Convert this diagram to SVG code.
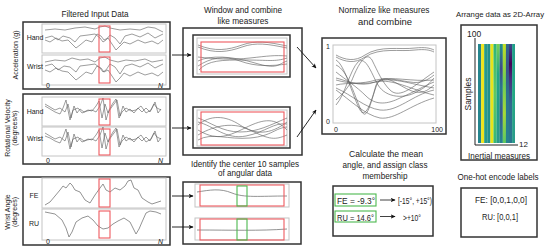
<svg xmlns="http://www.w3.org/2000/svg" width="550" height="251" viewBox="0 0 550 251">
<style>
text{font-family:"Liberation Sans",Arial,sans-serif;fill:#222}
.ttl{font-size:9px;text-anchor:middle}
.sm{font-size:7px}
.lab{font-size:7px;text-anchor:middle}
.box{fill:none;stroke:#333;stroke-width:1.5}
.plot{fill:#fff;stroke:#c4c4c4;stroke-width:1}
.red{fill:none;stroke:#ee5a5f;stroke-width:1.1}
.grn{fill:none;stroke:#4cb84f;stroke-width:1.1}
.ln{fill:none;stroke:#5a5a5a;stroke-width:0.6}
.ln2{fill:none;stroke:#777;stroke-width:0.8}
.arr{fill:none;stroke:#111;stroke-width:0.9;marker-end:url(#ah)}
</style>
<defs>
<marker id="ah" viewBox="0 0 8 8" refX="7" refY="4" markerWidth="5" markerHeight="5" orient="auto" markerUnits="userSpaceOnUse">
<path d="M0,0.5 L8,4 L0,7.5 L2,4 Z" fill="#111"/>
</marker>
<linearGradient id="g6" x1="0" y1="0" x2="0" y2="1"><stop offset="0" stop-color="#2fb47c"/><stop offset="0.5" stop-color="#5ec962"/><stop offset="1" stop-color="#35b779"/></linearGradient>
<linearGradient id="g7" x1="0" y1="0" x2="0" y2="1"><stop offset="0" stop-color="#7ad151"/><stop offset="0.3" stop-color="#22a884"/><stop offset="0.6" stop-color="#1f9e89"/><stop offset="1" stop-color="#2a9a8a"/></linearGradient>
<linearGradient id="g8" x1="0" y1="0" x2="0" y2="1"><stop offset="0" stop-color="#21918c"/><stop offset="0.25" stop-color="#3e4a89"/><stop offset="0.45" stop-color="#2a788e"/><stop offset="0.7" stop-color="#38598c"/><stop offset="1" stop-color="#25858e"/></linearGradient>
<linearGradient id="g9" x1="0" y1="0" x2="0" y2="1"><stop offset="0" stop-color="#c2df23"/><stop offset="0.4" stop-color="#6ece58"/><stop offset="0.7" stop-color="#a5db36"/><stop offset="1" stop-color="#5ec962"/></linearGradient>
<linearGradient id="g10" x1="0" y1="0" x2="0" y2="1"><stop offset="0" stop-color="#31688e"/><stop offset="0.25" stop-color="#3b528b"/><stop offset="0.5" stop-color="#2c728e"/><stop offset="1" stop-color="#26828e"/></linearGradient>
<linearGradient id="g11" x1="0" y1="0" x2="0" y2="1"><stop offset="0" stop-color="#3e4a89"/><stop offset="0.2" stop-color="#440154"/><stop offset="0.35" stop-color="#472d7b"/><stop offset="0.6" stop-color="#31688e"/><stop offset="1" stop-color="#2a788e"/></linearGradient>
<linearGradient id="g12" x1="0" y1="0" x2="0" y2="1"><stop offset="0" stop-color="#1f9e89"/><stop offset="0.5" stop-color="#22a884"/><stop offset="1" stop-color="#2a9a8a"/></linearGradient>
</defs>

<g id="filtered-input-data">
<text class="ttl" x="95" y="17" textLength="67" lengthAdjust="spacingAndGlyphs">Filtered Input Data</text>
<g id="acceleration">
<rect class="box" x="23" y="22" width="147" height="67"/>
<text class="sm" transform="translate(17.5,55) rotate(-90)" text-anchor="middle">Acceleration (g)</text>
<rect class="plot" x="42" y="24" width="124" height="29"/>
<rect class="plot" x="42" y="55" width="124" height="30"/>
<text class="lab" x="35" y="40">Hand</text>
<text class="lab" x="35" y="69">Wrist</text>
<path class="ln" d="M45,30 L55,29 L65,30 L75,28 L85,27 L95,29 L100,27 L105,26 L110,28 L115,29 L120,30 L130,29 L140,30 L148,27 L155,28 L163,32"/>
<path class="ln" d="M45,38 L52,36 L58,40 L63,36 L70,38 L75,42 L80,36 L88,35 L95,34 L100,38 L103,42 L106,40 L110,35 L115,38 L120,44 L125,36 L132,34 L140,37 L148,33 L155,38 L163,34"/>
<path class="ln" d="M45,40 L50,42 L56,38 L62,41 L68,40 L72,44 L76,48 L80,45 L86,40 L92,42 L97,34 L101,36 L104,40 L108,38 L112,44 L116,50 L120,46 L124,42 L130,44 L138,40 L145,43 L152,41 L158,44 L163,40"/>
<path class="ln" d="M45,62 L55,60 L65,61 L72,58 L80,60 L88,59 L95,62 L100,58 L105,57 L110,60 L118,62 L126,60 L135,61 L145,59 L152,62 L163,60"/>
<path class="ln" d="M45,66 L52,64 L58,70 L64,66 L70,67 L76,72 L80,66 L88,65 L95,64 L100,68 L103,72 L106,70 L110,64 L115,67 L120,74 L125,66 L132,64 L140,67 L148,63 L155,68 L163,64"/>
<path class="ln" d="M45,70 L50,72 L56,68 L62,71 L68,72 L72,76 L76,80 L80,77 L86,72 L92,74 L97,66 L101,68 L104,72 L108,70 L112,76 L116,82 L120,78 L124,73 L130,76 L138,72 L145,75 L152,73 L158,76 L163,72"/>
<rect class="red" x="99" y="26" width="11" height="26"/>
<rect class="red" x="99" y="57" width="11" height="26"/>
<text class="sm" x="46" y="88">0</text>
<text class="sm" x="158" y="88" font-style="italic">N</text>
</g>
<g id="rotational-velocity">
<rect class="box" x="23" y="94" width="147" height="70"/>
<text class="sm" transform="translate(9.5,128) rotate(-90)" text-anchor="middle">Rotational Velocity</text>
<text class="sm" transform="translate(16.5,128) rotate(-90)" text-anchor="middle">(degrees/s)</text>
<rect class="plot" x="42" y="97" width="124" height="29"/>
<rect class="plot" x="42" y="127" width="124" height="29"/>
<text class="lab" x="35" y="114">Hand</text>
<text class="lab" x="35" y="141">Wrist</text>
<path class="ln" d="M45,104 L50,107 L55,110 L60,108 L65,112 L68,104 L71,118 L74,106 L77,113 L80,109 L84,112 L88,110 L92,111 L96,106 L99,101 L102,118 L105,104 L108,113 L111,108 L114,104 L117,100 L120,116 L123,106 L126,112 L130,109 L134,113 L138,108 L142,112 L146,108 L150,112 L154,104 L157,108 L161,110"/>
<path class="ln" d="M45,106 L50,109 L55,112 L60,114 L63,108 L66,100 L70,120 L73,110 L78,108 L82,113 L87,111 L92,110 L96,112 L100,106 L103,98 L106,120 L109,110 L113,103 L116,99 L119,118 L122,112 L126,108 L131,111 L136,110 L141,106 L146,113 L151,110 L155,102 L158,113 L161,109"/>
<path class="ln" d="M45,133 L50,136 L55,139 L60,137 L65,141 L68,132 L71,147 L74,134 L77,142 L80,138 L84,141 L88,139 L92,140 L96,135 L99,130 L102,148 L105,133 L108,142 L111,137 L114,133 L117,129 L120,145 L123,135 L126,141 L130,138 L134,142 L138,137 L142,141 L146,137 L150,141 L154,133 L157,137 L161,139"/>
<path class="ln" d="M45,136 L50,138 L55,141 L60,143 L63,137 L66,129 L70,149 L73,139 L78,137 L82,142 L87,140 L92,139 L96,141 L100,135 L103,127 L106,149 L109,139 L113,132 L116,128 L119,147 L122,141 L126,137 L131,140 L136,139 L141,135 L146,142 L151,139 L155,131 L158,142 L161,138"/>
<rect class="red" x="99" y="99" width="11" height="26"/>
<rect class="red" x="99" y="129" width="11" height="26"/>
<text class="sm" x="46" y="163">0</text>
<text class="sm" x="158" y="163" font-style="italic">N</text>
</g>
<g id="wrist-angle">
<rect class="box" x="23" y="177" width="147" height="68"/>
<text class="sm" transform="translate(9.5,212) rotate(-90)" text-anchor="middle">Wrist Angle</text>
<text class="sm" transform="translate(16.5,212) rotate(-90)" text-anchor="middle">(degrees)</text>
<rect class="plot" x="42" y="178" width="124" height="30"/>
<rect class="plot" x="42" y="209" width="124" height="31"/>
<text class="lab" x="34" y="198">FE</text>
<text class="lab" x="34" y="226">RU</text>
<path class="ln2" d="M45,205 L50,202 L55,196 L60,190 L63,186 L66,188 L70,183 L72,185 L75,190 L80,192 L85,200 L90,203 L95,195 L100,188 L103,184 L106,190 L110,192 L115,188 L120,190 L125,186 L128,181 L131,180 L134,188 L138,190 L142,198 L148,202 L152,204 L158,202 L161,201"/>
<path class="ln2" d="M45,212 L55,214 L62,220 L66,228 L69,237 L72,232 L76,222 L82,218 L88,216 L93,220 L98,226 L103,229 L108,228 L113,224 L118,221 L124,218 L130,222 L136,234 L139,229 L142,222 L146,213 L150,211 L156,212 L161,214"/>
<rect class="red" x="99" y="179" width="11" height="28"/>
<rect class="red" x="99" y="211" width="11" height="27"/>
<text class="sm" x="46" y="244">0</text>
<text class="sm" x="158" y="244" font-style="italic">N</text>
</g>
</g>

<g id="window-combine">
<text class="ttl" x="243" y="13" textLength="78" lengthAdjust="spacingAndGlyphs">Window and combine</text>
<text class="ttl" x="243" y="24" textLength="51" lengthAdjust="spacingAndGlyphs">like measures</text>
<rect class="box" x="183" y="28" width="119" height="127"/>
<rect class="box" x="193" y="35" width="97" height="42"/>
<rect class="plot" x="197" y="38" width="90" height="36"/>
<path class="ln" d="M198,45 C215,52 228,50 242,45 S268,42 287,46"/>
<path class="ln" d="M198,47 C215,54 228,52 242,47 S268,44 287,48"/>
<path class="ln" d="M198,57 C215,59 232,60 250,58 S275,55 287,56"/>
<path class="ln" d="M198,61 C210,55 232,56 255,63 S278,64 287,61"/>
<path class="ln" d="M198,66 C210,58 224,55 240,61 S272,66 287,64"/>
<path class="ln" d="M199,70 C208,60 222,60 245,60 S275,62 287,58"/>
<rect class="red" x="201" y="42" width="83" height="30"/>
<rect class="box" x="193" y="107" width="97" height="41"/>
<rect class="plot" x="197" y="110" width="90" height="36"/>
<path class="ln" d="M198,125 C210,115 225,115 240,125 S270,135 287,122"/>
<path class="ln" d="M198,130 C215,140 225,138 245,128 S275,118 287,130"/>
<path class="ln" d="M198,135 C210,128 230,120 250,130 S275,140 287,135"/>
<path class="ln" d="M198,140 C212,132 228,140 250,138 S275,128 287,127"/>
<path class="ln" d="M198,118 C210,122 222,132 240,132 S270,125 287,118"/>
<path class="ln" d="M198,122 C214,126 226,140 246,136 S274,122 287,124"/>
<rect class="red" x="201" y="112" width="83" height="33"/>
</g>

<g id="center-samples">
<text class="ttl" x="245" y="167" textLength="108" lengthAdjust="spacingAndGlyphs">Identify the center 10 samples</text>
<text class="ttl" x="245" y="176" textLength="54" lengthAdjust="spacingAndGlyphs">of angular data</text>
<rect class="box" x="183" y="182" width="118" height="62"/>
<rect class="plot" x="195" y="184" width="94" height="23"/>
<path class="ln2" d="M197,192 C210,190 220,188 232,193 S260,196 287,196"/>
<rect class="red" x="200" y="185" width="84" height="21"/>
<rect class="grn" x="237" y="186" width="10" height="20"/>
<rect class="plot" x="195" y="218" width="94" height="22"/>
<path class="ln2" d="M197,230 C230,230 260,231 287,229"/>
<rect class="red" x="200" y="219" width="84" height="21"/>
<rect class="grn" x="237" y="219" width="10" height="21"/>
</g>

<g id="normalize">
<text class="ttl" x="384" y="13" textLength="91" lengthAdjust="spacingAndGlyphs">Normalize like measures</text>
<text class="ttl" x="385" y="25" textLength="54" lengthAdjust="spacingAndGlyphs">and combine</text>
<rect class="box" x="322" y="38" width="124" height="96"/>
<rect class="plot" x="333" y="45" width="103" height="78"/>
<path class="ln" d="M336,55 C345,60 355,62 365,55 C380,45 400,50 415,48 C425,47 430,48 434,50"/>
<path class="ln" d="M336,57 C345,62 355,64 365,57 C380,47 400,52 415,50 C425,49 430,50 434,52"/>
<path class="ln" d="M336,60 C345,65 352,95 360,110 C366,120 372,100 376,85 C382,75 395,80 410,82 C420,84 428,80 434,75"/>
<path class="ln" d="M336,65 C348,70 355,98 362,112 C368,122 372,95 378,82 C386,72 400,88 415,92 C425,94 430,88 434,85"/>
<path class="ln" d="M336,100 C342,95 348,88 352,80 C358,65 366,50 372,60 C378,72 382,82 390,90 C400,100 415,85 434,72"/>
<path class="ln" d="M336,105 C345,95 350,70 358,62 C366,55 372,75 378,85 C386,98 405,100 420,90 C428,86 432,80 434,78"/>
<path class="ln" d="M336,78 C345,80 360,88 375,82 C390,76 410,84 434,88"/>
<path class="ln" d="M336,80 C350,84 362,84 376,80 C392,76 412,82 434,80"/>
<path class="ln" d="M336,85 C348,82 362,85 376,82 C392,78 412,90 434,95"/>
<path class="ln" d="M336,72 C346,80 356,86 366,96 C376,106 388,104 400,98 C414,92 424,86 434,82"/>
<path class="ln" d="M336,90 C350,100 365,115 380,118 C395,120 410,105 434,98"/>
<path class="ln" d="M336,88 C352,95 365,108 380,110 C398,112 412,95 434,90"/>
<text class="sm" x="326" y="49">1</text>
<text class="sm" x="326" y="124">0</text>
<text class="sm" x="334" y="132">0</text>
<text class="sm" x="443" y="132" text-anchor="end">100</text>
</g>

<g id="class-membership">
<text class="ttl" x="386" y="157" textLength="74" lengthAdjust="spacingAndGlyphs">Calculate the mean</text>
<text class="ttl" x="385" y="168" textLength="85" lengthAdjust="spacingAndGlyphs">angle, and assign class</text>
<text class="ttl" x="385" y="179" textLength="45" lengthAdjust="spacingAndGlyphs">membership</text>
<rect class="box" x="333" y="186" width="100" height="50"/>
<rect class="grn" x="335" y="194" width="41" height="12"/>
<rect class="grn" x="335" y="211" width="41" height="11"/>
<text x="337" y="204" font-size="8.5" textLength="38" lengthAdjust="spacingAndGlyphs">FE = -9.3°</text>
<text x="337" y="220.5" font-size="8.5" textLength="37" lengthAdjust="spacingAndGlyphs">RU = 14.6°</text>
<line x1="380" y1="200" x2="395" y2="200" stroke="#111" stroke-width="0.8" marker-end="url(#ah)"/>
<line x1="380" y1="216.5" x2="395" y2="216.5" stroke="#111" stroke-width="0.8" marker-end="url(#ah)"/>
<text x="398" y="204" font-size="8.5" textLength="34" lengthAdjust="spacingAndGlyphs">[-15°, +15°)</text>
<text x="403" y="220.5" font-size="8.5" textLength="18" lengthAdjust="spacingAndGlyphs">&gt;+10°</text>
</g>

<g id="array-2d">
<text x="500" y="17" style="font-size:7.7px;text-anchor:middle" textLength="88" lengthAdjust="spacingAndGlyphs">Arrange data as 2D-Array</text>
<rect class="box" x="461" y="25" width="76" height="135"/>
<rect x="478" y="44" width="3.2" height="99" fill="#25858e"/>
<rect x="481.1" y="44" width="3.2" height="99" fill="#f0e51c"/>
<rect x="484.2" y="44" width="3.2" height="99" fill="#2a9a8a"/>
<rect x="487.3" y="44" width="3.2" height="99" fill="#21908d"/>
<rect x="490.4" y="44" width="3.2" height="99" fill="#e8e419"/>
<rect x="493.5" y="44" width="3.2" height="99" fill="url(#g6)"/>
<rect x="496.6" y="44" width="3.2" height="99" fill="url(#g7)"/>
<rect x="499.7" y="44" width="3.2" height="99" fill="url(#g8)"/>
<rect x="502.8" y="44" width="3.2" height="99" fill="url(#g9)"/>
<rect x="505.9" y="44" width="3.2" height="99" fill="url(#g10)"/>
<rect x="509" y="44" width="3.2" height="99" fill="url(#g11)"/>
<rect x="512.1" y="44" width="2.9" height="99" fill="url(#g12)"/>
<path d="M475,38 L475,145 L518,145" fill="none" stroke="#222" stroke-width="1"/>
<text x="467" y="37" font-size="8.5">100</text>
<text x="519" y="147" font-size="8">12</text>
<text font-size="8.5" transform="translate(471,94) rotate(-90)" text-anchor="middle">Samples</text>
<text x="499" y="158.5" font-size="8.5" text-anchor="middle" textLength="62" lengthAdjust="spacingAndGlyphs">Inertial measures</text>
</g>

<g id="one-hot">
<text class="ttl" x="498" y="180" textLength="81" lengthAdjust="spacingAndGlyphs">One-hot encode labels</text>
<rect class="box" x="461" y="188" width="76" height="49"/>
<text x="501" y="203" font-size="8.5" text-anchor="middle" textLength="52" lengthAdjust="spacingAndGlyphs">FE: [0,0,1,0,0]</text>
<text x="500" y="220" font-size="8.5" text-anchor="middle" textLength="36" lengthAdjust="spacingAndGlyphs">RU: [0,0,1]</text>
</g>

<g id="connectors">
<line class="arr" x1="172" y1="55" x2="191" y2="55"/>
<line class="arr" x1="172" y1="128" x2="191" y2="128"/>
<line class="arr" x1="172" y1="196" x2="193" y2="196"/>
<line class="arr" x1="172" y1="227" x2="193" y2="227"/>
<line class="arr" x1="297" y1="47" x2="316" y2="68"/>
<line class="arr" x1="297" y1="137" x2="316" y2="110"/>
</g>
</svg>
